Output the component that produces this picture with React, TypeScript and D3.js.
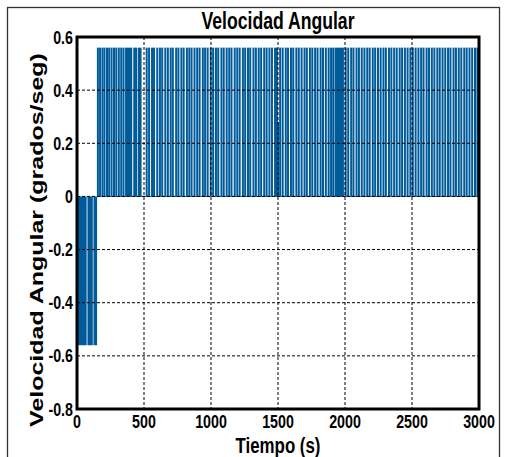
import React from "react";
import * as d3 from "d3";

// ---- data ----
const xTicks = [0, 500, 1000, 1500, 2000, 2500, 3000];
const yTicks = [0.6, 0.4, 0.2, 0, -0.2, -0.4, -0.6, -0.8];
const yTickLabels = ["0.6", "0.4", "0.2", "0", "-0.2", "-0.4", "-0.6", "-0.8"];

// dense switching intervals (rendered solid)
const bandStart = [0, 78, 123, 373, 420, 455, 1922];
const bandEnd = [72, 118, 150, 412, 450, 482, 1992];
const bandValue = [-0.56, -0.56, -0.56, 0.56, 0.56, 0.56, 0.56];

// individual switching pulses
const pulseTimes = [
  156, 172, 190, 205, 224, 240, 258, 276, 293, 312, 330, 347, 366,
  520, 538, 560, 575, 599, 619, 636, 659, 678, 699, 715, 740, 757, 779, 796,
  820, 838, 855, 877, 897, 915, 939, 956, 975, 998, 1016, 1037, 1054, 1078,
  1095, 1117, 1136, 1153, 1177, 1196, 1214, 1238, 1255, 1276, 1293, 1317,
  1335, 1356, 1374, 1397, 1415, 1436, 1455, 1478, 1492, 1500, 1516, 1535,
  1558, 1575, 1597, 1614, 1637, 1655, 1676, 1698, 1715, 1738, 1756, 1777,
  1795, 1818, 1836, 1857, 1878, 1896, 1912, 2005, 2024, 2046, 2063, 2086,
  2104, 2125, 2145, 2166, 2184, 2207, 2225, 2246, 2266, 2287, 2305, 2328,
  2346, 2367, 2386, 2408, 2426, 2447, 2467, 2488, 2506, 2527, 2548, 2568,
  2586, 2609, 2627, 2648, 2667, 2689, 2707, 2728, 2748, 2769, 2787, 2810,
  2828, 2849, 2868, 2890, 2908, 2929, 2949, 2970, 2988, 3000,
];
const pulseValues = pulseTimes.map((t) => (t === 1500 || t === 3000 ? 0.28 : 0.56));

// baseline segment of the signal
const baseTimes = [150, 3000];
const baseValues = [0, 0];

const BLUE = "#005b9b";
const FONT = "'Liberation Sans', Arial, Helvetica, sans-serif";
const SX = 0.75; // horizontal squeeze of the original figure

export default function App() {
  const x = d3.scaleLinear().domain([0, 3000]).range([77, 479]);
  const y = d3.scaleLinear().domain([-0.8, 0.6]).range([409, 37]);
  const line = d3
    .line<[number, number]>()
    .x((d) => x(d[0]))
    .y((d) => y(d[1]));

  const basePts: [number, number][] = baseTimes.map((t, i) => [t, baseValues[i]]);

  return (
    <svg
      width={508}
      height={457}
      style={{ position: "absolute", left: 0, top: 0, background: "#fff" }}
      fontFamily={FONT}
    >
      <rect x={0} y={0} width={508} height={457} fill="#fff" />
      {/* figure frame */}
      <rect x={7.5} y={7.5} width={492} height={470} fill="none" stroke="#333" strokeWidth={1.3} />

      {/* title */}
      <text
        transform={`translate(278,29) scale(${SX},1)`}
        textAnchor="middle"
        fontWeight="bold"
        fontSize={23.5}
      >
        Velocidad Angular
      </text>

      {/* data: dense bands */}
      {bandStart.map((s, i) => (
        <rect
          key={"b" + i}
          x={x(s)}
          width={x(bandEnd[i]) - x(s)}
          y={Math.min(y(0), y(bandValue[i]))}
          height={Math.abs(y(0) - y(bandValue[i]))}
          fill={BLUE}
        />
      ))}
      {/* baseline */}
      <path d={line(basePts) || ""} fill="none" stroke={BLUE} strokeWidth={1} />
      {/* pulses */}
      {pulseTimes.map((t, i) => (
        <path
          key={"p" + i}
          d={line([[t, 0], [t, pulseValues[i]]]) || ""}
          fill="none"
          stroke={BLUE}
          strokeWidth={2}
        />
      ))}

      {/* grid */}
      {xTicks.slice(1, -1).map((t) => (
        <line
          key={"gx" + t}
          x1={x(t)}
          x2={x(t)}
          y1={y(0.6)}
          y2={y(-0.8)}
          stroke="#000"
          strokeWidth={1}
          strokeDasharray="3,2"
        />
      ))}
      {yTicks.slice(1, -1).map((t) => (
        <line
          key={"gy" + t}
          x1={x(0)}
          x2={x(3000)}
          y1={y(t)}
          y2={y(t)}
          stroke="#000"
          strokeWidth={1}
          strokeDasharray="3,2"
        />
      ))}

      {/* axes box */}
      <rect
        x={x(0)}
        y={y(0.6)}
        width={x(3000) - x(0)}
        height={y(-0.8) - y(0.6)}
        fill="none"
        stroke="#000"
        strokeWidth={3}
      />

      {/* x tick labels */}
      {xTicks.map((t) => (
        <text
          key={"xl" + t}
          transform={`translate(${x(t)},428) scale(${SX},1)`}
          textAnchor="middle"
          fontWeight="bold"
          fontSize={19}
        >
          {t}
        </text>
      ))}
      {/* y tick labels */}
      {yTicks.map((t, i) => (
        <text
          key={"yl" + t}
          transform={`translate(73,${y(t) + 6.5}) scale(${SX},1)`}
          textAnchor="end"
          fontWeight="bold"
          fontSize={19}
        >
          {yTickLabels[i]}
        </text>
      ))}

      {/* axis labels */}
      <text
        transform={`translate(278,453) scale(${SX},1)`}
        textAnchor="middle"
        fontWeight="bold"
        fontSize={22.5}
      >
        Tiempo (s)
      </text>
      <text
        transform={`translate(43,240) scale(${SX},1) rotate(-90)`}
        textAnchor="middle"
        fontWeight="bold"
        fontSize={25}
      >
        Velocidad Angular (grados/seg)
      </text>
    </svg>
  );
}
